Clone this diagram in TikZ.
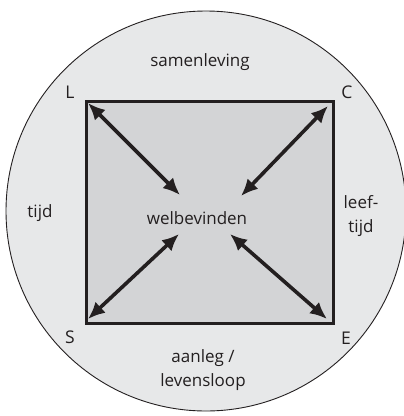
\documentclass[tikz,border=0pt]{standalone}
\usepackage{fontspec}
\setmainfont{Open Sans}
\usetikzlibrary{arrows.meta, positioning}
\definecolor{ringfill}{RGB}{231,232,233}
\definecolor{boxfill}{RGB}{211,212,214}
\definecolor{ink}{RGB}{35,31,32}

\begin{document}
\begin{tikzpicture}[x=1pt, y=-1pt,
    corner/.style={text=ink, font=\fontsize{17.5}{20}\selectfont},
    txt/.style={text=ink, font=\fontsize{17}{24}\selectfont, align=center},
    arrow/.style={{Latex[length=17pt,width=15pt]}-{Latex[length=17pt,width=15pt]}, line width=3.6pt, draw=ink}
]
\useasboundingbox (0,0) rectangle (404,416);
\clip (0,0) rectangle (404,416);

% cirkel
\node[circle, draw=ink, line width=0.9pt, fill=ringfill, minimum size=400, inner sep=0] (ring) at (206,211) {};

% vierkant
\node[draw=ink, line width=3.2pt, fill=boxfill, minimum width=247, minimum height=222, inner sep=0] (box) at (210,212.5) {};

% hoeken
\node[corner] (L) at (70,92) {L};
\node[corner] (C) at (347,92) {C};
\node[corner] (S) at (70,337) {S};
\node[corner] (E) at (346,338) {E};

% teksten
\node[txt] (wb) at (197,218) {welbevinden};
\node[txt] (sam) at (200,62) {samenleving};
\node[txt] (tijd) at (40,213) {tijd};
\node[txt] (leef) at (361,216) {leef-\\tijd};
\node[txt] (aan) at (203,370) {aanleg /\\levensloop};

% pijlen
\coordinate (pL) at (88,103);
\coordinate (pC) at (328,106);
\coordinate (pS) at (88,319);
\coordinate (pE) at (327,319);
\coordinate (wL) at (180,195);
\coordinate (wC) at (241,196);
\coordinate (wS) at (179,234);
\coordinate (wE) at (230,234);
\draw[arrow] (pL) -- (wL);
\draw[arrow] (pC) -- (wC);
\draw[arrow] (pS) -- (wS);
\draw[arrow] (pE) -- (wE);
\end{tikzpicture}
\end{document}
